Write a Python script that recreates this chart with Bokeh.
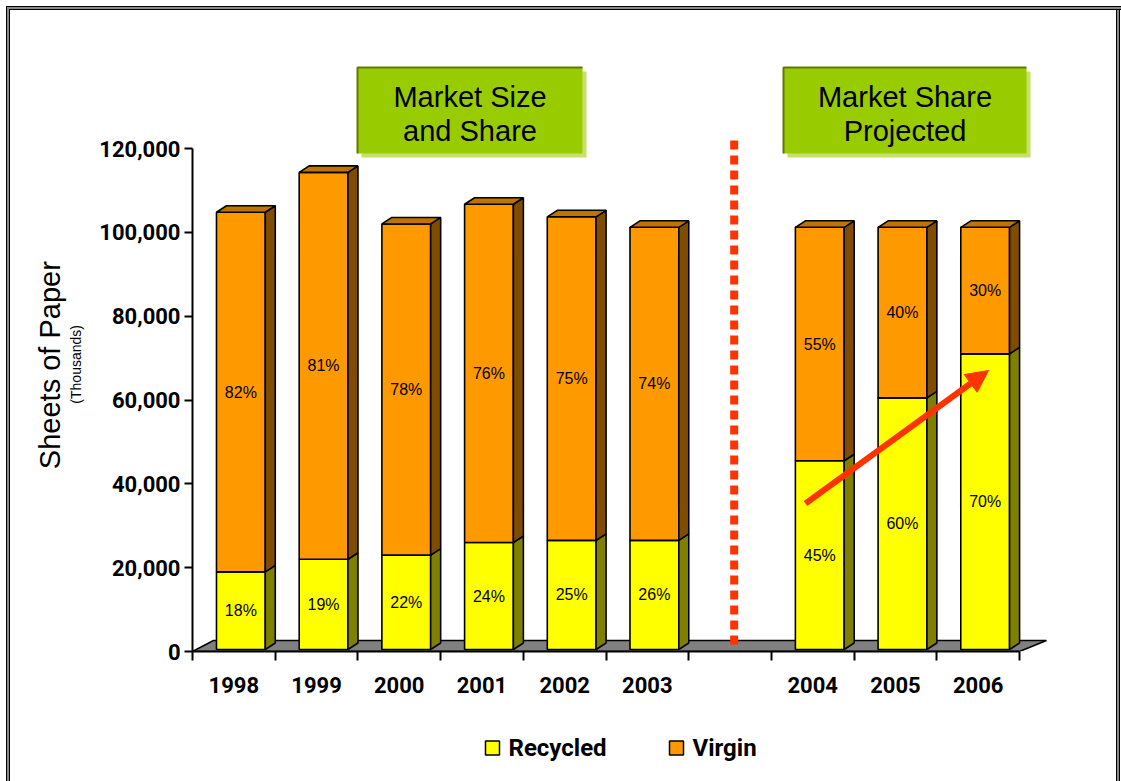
import math
from bokeh.plotting import figure
from bokeh.layouts import column
from bokeh.models import (Range1d, FixedTicker, NumeralTickFormatter,
                          Arrow, NormalHead, LinearAxis)
from bokeh.core.properties import value
from bokeh.embed import file_html
from bokeh.resources import INLINE

# ---------------- data ----------------
categories = ["1998", "1999", "2000", "2001", "2002", "2003", "", "2004", "2005", "2006"]
years = ["1998", "1999", "2000", "2001", "2002", "2003", "2004", "2005", "2006"]
recycled = [19000, 22000, 23000, 26000, 26500, 26500, 45500, 60500, 71000]
virgin = [85800, 92300, 79000, 80700, 77200, 74700, 55700, 40700, 30200]
recycled_pct = ["18%", "19%", "22%", "24%", "25%", "26%", "45%", "60%", "70%"]
virgin_pct = ["82%", "81%", "78%", "76%", "75%", "74%", "55%", "40%", "30%"]
y_ticks = [0, 20000, 40000, 60000, 80000, 100000, 120000]
series = ["Recycled", "Virgin"]
series_colors = ["#FFFF00", "#FF9900"]
y_title = "Sheets of Paper"
y_subtitle = "(Thousands)"
box_lines = [["Market Size", "and Share"], ["Market Share", "Projected"]]

# ---------------- layout ----------------
W, H = 1121, 781
H1 = 720                    # height of the chart figure; legend strip below
FL, FR, FT, FB = 192, 1101, 30, 651
CAT = 82.7                  # px per category slot
PXY = 503 / 120000.0        # px per value unit

def X(px):
    return (px - FL) / CAT

def Y(py):
    return (FB - py) / PXY

BOLD = "Roboto"
SANS = "Liberation Sans"
RED = "#FF3300"
NBSP = "\u00a0"

frame_top = ("inset 6px 6px 0 0 #ffffff, inset 7px 7px 0 0 #000000, "
             "inset 9px 9px 0 0 #8a8a8a, inset 10px 10px 0 0 #000000, ")
frame_sides = ("inset 6px 0 0 0 #ffffff, inset 7px 0 0 0 #000000, "
               "inset 9px 0 0 0 #8a8a8a, inset 10px 0 0 0 #000000, ")
frame_right = ("inset -1px 0 0 0 #ffffff, inset -2px 0 0 0 #000000, "
               "inset -4px 0 0 0 #8a8a8a, inset -5px 0 0 0 #000000")

p = figure(width=W, height=H1, x_range=Range1d(0, X(FR)), y_range=Range1d(0, Y(FT)),
           output_backend="svg", toolbar_location=None,
           min_border_left=FL, min_border_right=W - FR,
           min_border_top=FT, min_border_bottom=H1 - FB)
p.outline_line_color = None
p.grid.visible = False
p.background_fill_color = "white"
p.border_fill_color = None
p.styles = {"background-color": "white", "box-shadow": frame_top + frame_right}

n_slots = len(categories)
slots = [categories.index(y) for y in years]

# floor
p.patch(x=[0, n_slots, n_slots + 27 / CAT, 21 / CAT], y=[0, 0, 11 / PXY, 11 / PXY],
        fill_color="#808080", line_color="black", line_width=1.5)

# bars (pseudo 3D)
x0 = [s + 0.29 for s in slots]
x1 = [s + 0.88 for s in slots]
base = 2 / PXY
DX = 10 / CAT
DY = 6.5 / PXY
rec_top = list(recycled)
vir_top = [r + v for r, v in zip(recycled, virgin)]

p.quad(left=x0, right=x1, bottom=[base] * len(years), top=rec_top,
       fill_color=series_colors[0], line_color="black", line_width=1.6)
p.patches(xs=[[b, b + DX, b + DX, b] for b in x1],
          ys=[[base, base + DY, t + DY, t] for t in rec_top],
          fill_color="#808000", line_color="black", line_width=1.6)
p.quad(left=x0, right=x1, bottom=rec_top, top=vir_top,
       fill_color=series_colors[1], line_color="black", line_width=1.6)
p.patches(xs=[[b, b + DX, b + DX, b] for b in x1],
          ys=[[r, r + DY, t + DY, t] for r, t in zip(rec_top, vir_top)],
          fill_color="#7F4C00", line_color="black", line_width=1.6)
p.patches(xs=[[a, a + DX, b + DX, b] for a, b in zip(x0, x1)],
          ys=[[t, t + DY, t + DY, t] for t in vir_top],
          fill_color="#BF7300", line_color="black", line_width=1.6)

cx = [(a + b) / 2 for a, b in zip(x0, x1)]
p.text(x=cx, y=[(base + r) / 2 for r in rec_top], text=recycled_pct,
       text_font=value(SANS), text_font_size="16px", text_color="black",
       text_align="center", text_baseline="middle")
p.text(x=cx, y=[(r + t) / 2 for r, t in zip(rec_top, vir_top)], text=virgin_pct,
       text_font=value(SANS), text_font_size="16px", text_color="black",
       text_align="center", text_baseline="middle")

# separator
sep_x = categories.index("") + 0.55
p.segment(x0=[sep_x], y0=[Y(140)], x1=[sep_x], y1=[Y(647)], line_color=RED,
          line_width=8, line_dash="9 6")

# trend arrow
p.add_layout(Arrow(end=NormalHead(size=22, fill_color=RED, line_color=RED),
                   x_start=X(805), y_start=Y(503), x_end=X(988), y_end=Y(370),
                   line_color=RED, line_width=6))

# green boxes
boxes_px = [(357, 582, 67, 153), (783, 1026, 67, 153)]
for (l, r, t, b), lines in zip(boxes_px, box_lines):
    p.quad(left=[X(l + 4)], right=[X(r + 4)], top=[Y(t + 4)], bottom=[Y(b + 4)],
           fill_color="#C6E06A", line_color=None)
    p.quad(left=[X(l)], right=[X(r)], top=[Y(t)], bottom=[Y(b)],
           fill_color="#99CC00", line_color=None)
    p.line(x=[X(l), X(l), X(r)], y=[Y(b), Y(t), Y(t)], line_color="#5F7A00", line_width=2)
    p.text(x=[X((l + r) / 2)] * 2, y=[Y(t + 29), Y(t + 63)], text=lines,
           text_font=value(SANS), text_font_size="29px", text_color="black",
           text_align="center", text_baseline="middle")

# axes
yax = p.yaxis[0]
yax.ticker = FixedTicker(ticks=y_ticks)
yax.formatter = NumeralTickFormatter(format="0,0")
yax.bounds = (0, y_ticks[-1])
yax.axis_line_width = 2
yax.major_tick_out = 8
yax.major_tick_in = 0
yax.major_tick_line_width = 2
yax.minor_tick_out = 0
yax.minor_tick_in = 0
yax.major_label_standoff = 4
yax.major_label_text_font = BOLD
yax.major_label_text_font_style = "bold"
yax.major_label_text_font_size = "22px"
yax.major_label_text_color = "black"
yax.axis_label = y_subtitle + NBSP * 12
yax.axis_label_text_font = SANS
yax.axis_label_text_font_style = "normal"
yax.axis_label_text_font_size = "14px"
yax.axis_label_text_color = "black"
yax.axis_label_standoff = 12

yax2 = LinearAxis(ticker=FixedTicker(ticks=[]), axis_line_color=None,
                  major_tick_out=0, major_tick_in=0, minor_tick_out=0, minor_tick_in=0,
                  major_label_standoff=0,
                  axis_label=y_title + NBSP * 6, axis_label_text_font=SANS,
                  axis_label_text_font_style="normal", axis_label_text_font_size="29px",
                  axis_label_text_color="black", axis_label_standoff=0)
p.add_layout(yax2, "left")

xax = p.xaxis[0]
centers = [s + 0.5 for s in slots]
xax.ticker = FixedTicker(ticks=centers, minor_ticks=list(range(n_slots + 1)))
xax.major_label_overrides = {c: y for c, y in zip(centers, years)}
xax.bounds = (0, n_slots)
xax.axis_line_width = 2
xax.major_tick_out = 0
xax.major_tick_in = 0
xax.minor_tick_out = 9
xax.minor_tick_in = 0
xax.minor_tick_line_width = 2
xax.major_label_standoff = 16
xax.major_label_text_font = BOLD
xax.major_label_text_font_style = "bold"
xax.major_label_text_font_size = "22px"
xax.major_label_text_color = "black"

# ---------------- legend strip ----------------
# its frame is aligned with the chart's frame (FL..FR), so x is given in page px
lg = figure(width=W, height=H - H1, x_range=Range1d(FL, FR), y_range=Range1d(H, H1),
            output_backend="svg", toolbar_location=None,
            min_border_left=FL, min_border_right=W - FR, min_border_top=0, min_border_bottom=0)
lg.axis.visible = False
lg.grid.visible = False
lg.outline_line_color = None
lg.background_fill_color = None
lg.border_fill_color = None
lg.styles = {"background-color": "white", "box-shadow": frame_sides + frame_right}

legend_x = [485, 669]       # left edge of each legend swatch (page px)
legend_y = 747.5
lg.rect(x=[lx + 7 for lx in legend_x], y=[legend_y] * len(series), width=14, height=14,
        fill_color=series_colors, line_color="black", line_width=1.5)
lg.text(x=[lx + 23 for lx in legend_x], y=[legend_y] * len(series), text=series,
        text_font=value(BOLD), text_font_style="bold", text_font_size="24px",
        text_color="black", text_align="left", text_baseline="middle")

layout = column(p, lg, spacing=0)
open("out.html", "w").write(file_html(layout, INLINE))
